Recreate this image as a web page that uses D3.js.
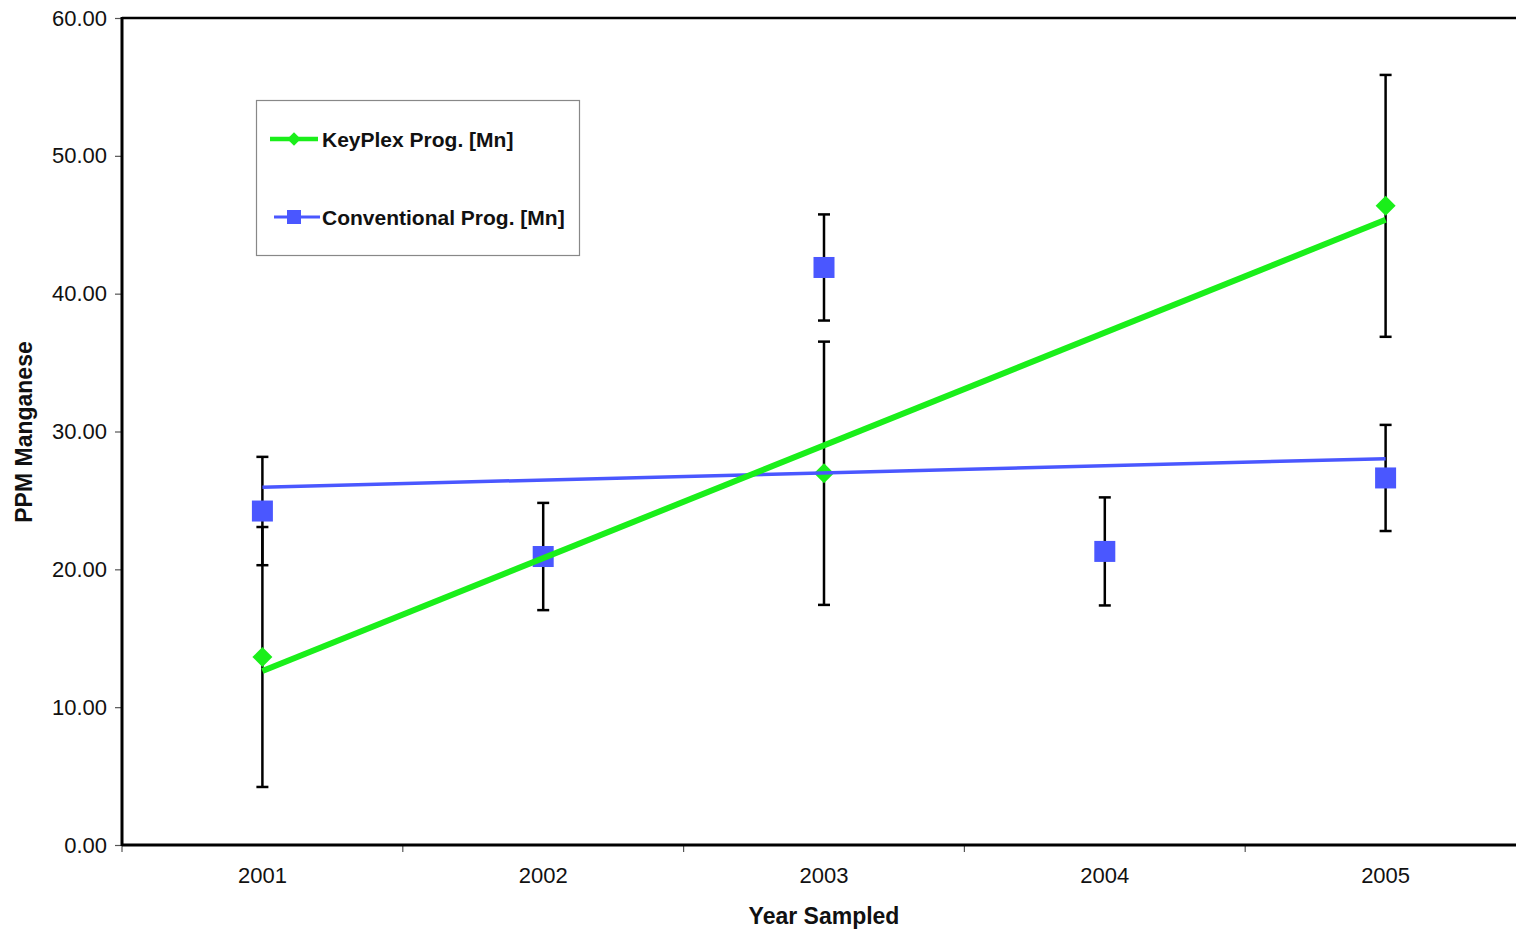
<!DOCTYPE html>
<html>
<head>
<meta charset="utf-8">
<script src="https://cdnjs.cloudflare.com/ajax/libs/d3/7.8.5/d3.min.js"></script>
<style>
  body { margin: 0; background: #fff; overflow: hidden; }
  text { font-family: "Liberation Sans", Arial, sans-serif; }
</style>
</head>
<body>
<script>
// data
var years = ["2001", "2002", "2003", "2004", "2005"];
var keyplex = [13.64, null, 26.97, null, 46.37];
var keyplexErr = [9.43, null, 9.55, null, 9.5];
var conventional = [24.23, 20.93, 41.9, 21.3, 26.63];
var conventionalErr = [3.93, 3.89, 3.85, 3.92, 3.85];
var yTicks = [0, 10, 20, 30, 40, 50, 60];

var W = 1516, H = 929;
var plotLeft = 122, plotTop = 18, plotBottom = 845, plotRight = 1526;

var svg = d3.select("body").append("svg")
    .attr("width", W).attr("height", H);

var x = d3.scaleBand().domain(years).range([plotLeft, plotRight]);
var y = d3.scaleLinear().domain([0, 60]).range([plotBottom, plotTop]);

// axes
var yAxis = d3.axisLeft(y).tickValues(yTicks).tickSize(7).tickFormat(d3.format(".2f"));
var gy = svg.append("g").attr("transform", "translate(" + plotLeft + ",0)").call(yAxis);
gy.select(".domain").remove();
gy.selectAll("text").style("font-size", "22px").attr("x", -15).attr("fill", "#111");
gy.selectAll("line").attr("stroke", "#555").attr("stroke-width", 1.2);

var xAxis = d3.axisBottom(x).tickSize(0);
var gx = svg.append("g").attr("transform", "translate(0," + plotBottom + ")").call(xAxis);
gx.select(".domain").remove();
gx.selectAll("text").style("font-size", "22px").attr("y", 22).attr("fill", "#111");

// category boundary ticks under the x axis
svg.append("g").selectAll("line")
  .data(years)
  .join("line")
    .attr("x1", function(d) { return x(d); })
    .attr("x2", function(d) { return x(d); })
    .attr("y1", plotBottom).attr("y2", plotBottom + 7)
    .attr("stroke", "#555").attr("stroke-width", 1.2);

// plot frame
svg.append("line").attr("x1", plotLeft).attr("x2", W).attr("y1", plotTop).attr("y2", plotTop)
   .attr("stroke", "#000").attr("stroke-width", 2.5);
svg.append("line").attr("x1", plotLeft).attr("x2", W).attr("y1", plotBottom).attr("y2", plotBottom)
   .attr("stroke", "#000").attr("stroke-width", 3);
svg.append("line").attr("x1", plotLeft).attr("x2", plotLeft).attr("y1", plotTop - 1).attr("y2", plotBottom + 1)
   .attr("stroke", "#000").attr("stroke-width", 3);

// axis titles
svg.append("text").attr("x", 824).attr("y", 924)
   .attr("text-anchor", "middle").style("font-size", "23px").style("font-weight", "bold")
   .attr("fill", "#111").text("Year Sampled");
svg.append("text").attr("transform", "translate(32,432) rotate(-90)")
   .attr("text-anchor", "middle").style("font-size", "23px").style("font-weight", "bold")
   .attr("fill", "#111").text("PPM Manganese");

var green = "#1aef1a", blue = "#4a57ff";
var cx = function(i) { return x(years[i]) + x.bandwidth() / 2; };

// least squares trend line
function trend(vals) {
  var pts = [];
  vals.forEach(function(v, i) { if (v != null) pts.push([i, v]); });
  var mx = d3.mean(pts, function(p) { return p[0]; });
  var my = d3.mean(pts, function(p) { return p[1]; });
  var sxy = d3.sum(pts, function(p) { return (p[0] - mx) * (p[1] - my); });
  var sxx = d3.sum(pts, function(p) { return (p[0] - mx) * (p[0] - mx); });
  var b = sxy / sxx, a = my - b * mx;
  return [[0, a], [years.length - 1, a + b * (years.length - 1)]];
}

var line = d3.line().x(function(d) { return cx(d[0]); }).y(function(d) { return y(d[1]); });

// error bars
function errBars(vals, errs) {
  var data = [];
  vals.forEach(function(v, i) { if (v != null) data.push({ i: i, v: v, e: errs[i] }); });
  var g = svg.append("g").attr("stroke", "#000").attr("stroke-width", 2.5);
  g.selectAll(".eb").data(data).join("line")
    .attr("x1", function(d) { return cx(d.i); }).attr("x2", function(d) { return cx(d.i); })
    .attr("y1", function(d) { return y(d.v + d.e); }).attr("y2", function(d) { return y(d.v - d.e); });
  [1, -1].forEach(function(s) {
    g.selectAll(".cap" + (s > 0 ? "u" : "d")).data(data).join("line")
      .attr("x1", function(d) { return cx(d.i) - 6; }).attr("x2", function(d) { return cx(d.i) + 6; })
      .attr("y1", function(d) { return y(d.v + s * d.e); }).attr("y2", function(d) { return y(d.v + s * d.e); });
  });
}
errBars(conventional, conventionalErr);
errBars(keyplex, keyplexErr);

// markers
var kpData = [], cvData = [];
keyplex.forEach(function(v, i) { if (v != null) kpData.push([i, v]); });
conventional.forEach(function(v, i) { if (v != null) cvData.push([i, v]); });

svg.append("g").selectAll("rect").data(cvData).join("rect")
  .attr("x", function(d) { return cx(d[0]) - 10.5; })
  .attr("y", function(d) { return y(d[1]) - 10.5; })
  .attr("width", 21).attr("height", 21).attr("fill", blue);

svg.append("g").selectAll("path").data(kpData).join("path")
  .attr("d", d3.symbol().type(d3.symbolSquare).size(200)())
  .attr("transform", function(d) { return "translate(" + cx(d[0]) + "," + y(d[1]) + ") rotate(45)"; })
  .attr("fill", green);

// trend lines
svg.append("path").attr("d", line(trend(conventional)))
   .attr("fill", "none").attr("stroke", blue).attr("stroke-width", 3.5);
svg.append("path").attr("d", line(trend(keyplex)))
   .attr("fill", "none").attr("stroke", green).attr("stroke-width", 6);

// legend
var lg = svg.append("g");
lg.append("rect").attr("x", 256.5).attr("y", 100.5).attr("width", 323).attr("height", 155)
  .attr("fill", "#fff").attr("stroke", "#888").attr("stroke-width", 1.2);
lg.append("line").attr("x1", 270).attr("x2", 318).attr("y1", 139).attr("y2", 139)
  .attr("stroke", green).attr("stroke-width", 4.5);
lg.append("path").attr("d", d3.symbol().type(d3.symbolSquare).size(90)())
  .attr("transform", "translate(294,139) rotate(45)").attr("fill", green);
lg.append("text").attr("x", 322).attr("y", 147).style("font-size", "21px").style("font-weight", "bold")
  .attr("fill", "#111").text("KeyPlex Prog. [Mn]");
lg.append("line").attr("x1", 274).attr("x2", 320).attr("y1", 217).attr("y2", 217)
  .attr("stroke", blue).attr("stroke-width", 3);
lg.append("rect").attr("x", 287).attr("y", 210).attr("width", 14).attr("height", 14).attr("fill", blue);
lg.append("text").attr("x", 322).attr("y", 225).style("font-size", "21px").style("font-weight", "bold")
  .attr("fill", "#111").text("Conventional Prog. [Mn]");
</script>
</body>
</html>
